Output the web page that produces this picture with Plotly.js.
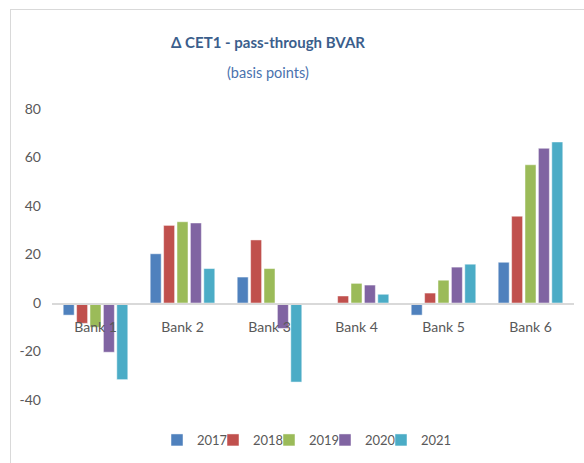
<!DOCTYPE html>
<html><head><meta charset="utf-8">
<script src="https://cdn.plot.ly/plotly-3.0.1.min.js"></script>
<style>
html,body{margin:0;padding:0;background:#fff;overflow:hidden;}
#frame{position:absolute;left:10px;top:9px;width:620px;height:520px;border:1.5px solid #D9D9D9;box-sizing:border-box;}
#chart{position:absolute;left:0;top:0;width:584px;height:463px;}
</style></head>
<body>
<div id="frame"></div>
<div id="chart"></div>
<script>
const categories = ["Bank 1","Bank 2","Bank 3","Bank 4","Bank 5","Bank 6"];
const years = ["2017","2018","2019","2020","2021"];
const v2017 = [-5, 20.3, 10.7, -0.7, -5, 16.8];
const v2018 = [-8.4, 32, 26, 2.9, 4.1, 35.8];
const v2019 = [-10, 33.5, 14.2, 8.1, 9.4, 57];
const v2020 = [-20.3, 33, -10.5, 7.4, 14.8, 63.8];
const v2021 = [-31.6, 14.2, -32.6, 3.6, 16, 66.4];
const seriesValues = [v2017, v2018, v2019, v2020, v2021];
const colors = ["#4F81BD","#C0504D","#9BBB59","#8064A2","#4BACC6"];
const yTicks = [-40,-20,0,20,40,60,80];

const FONT = 'Lato,"Open Sans",sans-serif';
const legendIds = ['legend','legend2','legend3','legend4','legend5'];

const traces = years.map((y,i)=>({
  type:'bar', name:y, x:categories, y:seriesValues[i], legend:legendIds[i],
  marker:{color:colors[i], line:{color:'rgba(255,255,255,0.6)', width:0.8}},
  hoverinfo:'none'
}));

const L=52, R=10, T=109, B=63;
const pw = 584-L-R, ph = 463-T-B;

const layout = {
  width:584, height:463,
  margin:{l:L, r:R, t:T, b:B, pad:0, autoexpand:false},
  paper_bgcolor:'rgba(0,0,0,0)', plot_bgcolor:'rgba(0,0,0,0)',
  barmode:'group', bargap:0.23, bargroupgap:0.18,
  font:{family:FONT, color:'#595959', size:14},
  title:{text:'<b>Δ CET1 - pass-through BVAR</b>', font:{family:FONT, size:15, color:'#3B5E8C'},
         xref:'container', yref:'container', x:268/584, xanchor:'center', y:1-43/463, yanchor:'middle'},
  annotations:[{text:'(basis points)', xref:'paper', yref:'paper', x:(268-L)/pw, y:(463-B-72)/ph,
    xanchor:'center', yanchor:'middle', showarrow:false, font:{family:FONT, size:14.5, color:'#4A72AE'}}],
  xaxis:{type:'category', anchor:'free', position:40/120, showline:true, linecolor:'#D9D9D9', linewidth:1.5,
         ticks:'', showgrid:false, zeroline:false, tickfont:{size:14, color:'#595959'}, ticklabelstandoff:11},
  yaxis:{range:[-40,80], tickvals:yTicks, ticktext:yTicks.map(String), showgrid:false, zeroline:false,
         showline:false, ticks:'', tickfont:{size:14, color:'#595959'}, ticklabelstandoff:10},
  showlegend:true
};
const legStart = 157, legStep = 56;
legendIds.forEach((id,i)=>{
  layout[id] = {orientation:'h', x:(legStart + i*legStep - L)/pw, xanchor:'left',
    y:(463-B-440)/ph, yanchor:'middle', itemwidth:30, font:{size:13, color:'#595959'},
    bgcolor:'rgba(0,0,0,0)'};
});
Plotly.newPlot('chart', traces, layout, {displayModeBar:false, staticPlot:true});
</script>
</body></html>
